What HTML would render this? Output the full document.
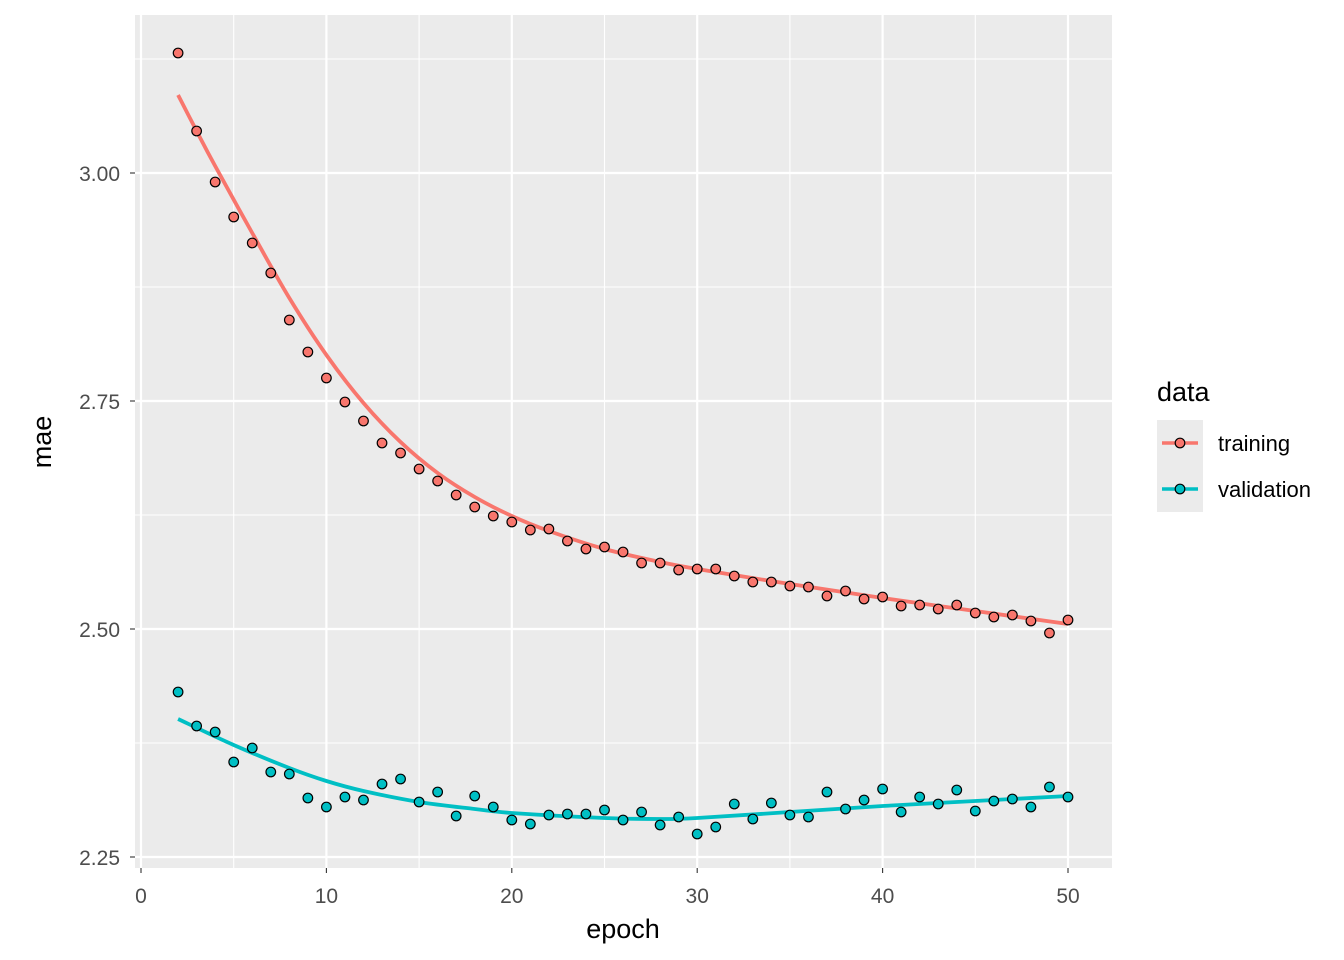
<!DOCTYPE html>
<html><head><meta charset="utf-8"><style>body{margin:0;background:#fff}svg{display:block;font-family:"Liberation Sans",sans-serif}</style></head><body>
<svg width="1344" height="960" xmlns="http://www.w3.org/2000/svg">
<rect x="135" y="15" width="977" height="853" fill="#ebebeb"/>
<g stroke="#fff" stroke-width="1.1">
<line x1="135" x2="1112" y1="59" y2="59"/><line x1="135" x2="1112" y1="287" y2="287"/><line x1="135" x2="1112" y1="515" y2="515"/><line x1="135" x2="1112" y1="743" y2="743"/>
<line y1="15" y2="868" x1="233.7" x2="233.7"/><line y1="15" y2="868" x1="419.1" x2="419.1"/><line y1="15" y2="868" x1="604.5" x2="604.5"/><line y1="15" y2="868" x1="789.9" x2="789.9"/><line y1="15" y2="868" x1="975.3" x2="975.3"/>
</g>
<g stroke="#fff" stroke-width="2.2">
<line x1="135" x2="1112" y1="173" y2="173"/><line x1="135" x2="1112" y1="401" y2="401"/><line x1="135" x2="1112" y1="629" y2="629"/><line x1="135" x2="1112" y1="857" y2="857"/>
<line y1="15" y2="868" x1="141" x2="141"/><line y1="15" y2="868" x1="326.4" x2="326.4"/><line y1="15" y2="868" x1="511.8" x2="511.8"/><line y1="15" y2="868" x1="697.2" x2="697.2"/><line y1="15" y2="868" x1="882.6" x2="882.6"/><line y1="15" y2="868" x1="1068" x2="1068"/>
</g>
<g id="pts"></g>
<g stroke="#333" stroke-width="1.1">
<line x1="130" x2="135" y1="173" y2="173"/><line x1="130" x2="135" y1="401" y2="401"/><line x1="130" x2="135" y1="629" y2="629"/><line x1="130" x2="135" y1="857" y2="857"/>
<line y1="868" y2="873" x1="141" x2="141"/><line y1="868" y2="873" x1="326.4" x2="326.4"/><line y1="868" y2="873" x1="511.8" x2="511.8"/><line y1="868" y2="873" x1="697.2" x2="697.2"/><line y1="868" y2="873" x1="882.6" x2="882.6"/><line y1="868" y2="873" x1="1068" x2="1068"/>
</g>
<g fill="#4d4d4d" font-size="21" text-anchor="end">
<text x="120" y="181">3.00</text><text x="120" y="409">2.75</text><text x="120" y="637">2.50</text><text x="120" y="865">2.25</text>
</g>
<g fill="#4d4d4d" font-size="21" text-anchor="middle">
<text x="141" y="903">0</text><text x="326.4" y="903">10</text><text x="511.8" y="903">20</text><text x="697.2" y="903">30</text><text x="882.6" y="903">40</text><text x="1068" y="903">50</text>
</g>
<text x="623" y="938" font-size="27" text-anchor="middle">epoch</text>
<text transform="translate(51,442) rotate(-90)" font-size="27" text-anchor="middle">mae</text>
<text x="1157" y="401" font-size="27">data</text>
<rect x="1157" y="420" width="46" height="92" fill="#ebebeb"/>
<line x1="1162" x2="1198" y1="443" y2="443" stroke="#F8766D" stroke-width="3.5"/>
<circle cx="1180" cy="443" r="4.8" fill="#F8766D" stroke="#000" stroke-width="1.2"/>
<line x1="1162" x2="1198" y1="489" y2="489" stroke="#00BFC4" stroke-width="3.5"/>
<circle cx="1180" cy="489" r="4.8" fill="#00BFC4" stroke="#000" stroke-width="1.2"/>
<text x="1218" y="451" font-size="22">training</text>
<text x="1218" y="497" font-size="22">validation</text>
</svg>
<script>
const X=e=>141+e*18.54;
const tr=[53,131,182,217,243,273,320,352,378,402,421,443,453,469,481,495,507,516,522,530,529,541,549,547,552,563,563,570,569,569,576,582,582,586,587,596,591,599,597,606,605,609,605,613,617,615,621,633,620];
const va=[692,726,732,762,748,772,774,798,807,797,800,784,779,802,792,816,796,807,820,824,815,814,814,810,820,812,825,817,834,827,804,819,803,815,817,792,809,800,789,812,797,804,790,811,801,799,807,787,797];
const tc=[[2,95],[3,131],[4,166],[6,233],[8,298],[10,355],[12,403],[14,442],[16,473],[18,497],[20,516],[22,531],[25,549],[28,562],[30,569],[35,584],[40,598],[45,611],[50,624]];
const vc=[[2,719],[5,745],[8,768],[10,781],[12,791],[15,802],[18,809],[20,813],[25,818],[28,819],[30,818],[35,812],[40,806],[45,801],[50,796]];
const ns="http://www.w3.org/2000/svg",g=document.getElementById('pts');
function path(c,col){let d='M'+X(c[0][0])+','+c[0][1];for(let i=1;i<c.length;i++){const p0=c[Math.max(i-2,0)],p1=c[i-1],p2=c[i],p3=c[Math.min(i+1,c.length-1)];const a=[X(p1[0])+(X(p2[0])-X(p0[0]))/6,p1[1]+(p2[1]-p0[1])/6],b=[X(p2[0])-(X(p3[0])-X(p1[0]))/6,p2[1]-(p3[1]-p1[1])/6];d+=` C${a[0]},${a[1]} ${b[0]},${b[1]} ${X(p2[0])},${p2[1]}`;}const p=document.createElementNS(ns,'path');p.setAttribute('d',d);p.setAttribute('fill','none');p.setAttribute('stroke',col);p.setAttribute('stroke-width','3.8');g.appendChild(p);}
function pts(a,col){a.forEach((y,i)=>{const c=document.createElementNS(ns,'circle');c.setAttribute('cx',X(i+2));c.setAttribute('cy',y);c.setAttribute('r','4.8');c.setAttribute('fill',col);c.setAttribute('stroke','#000');c.setAttribute('stroke-width','1.2');g.appendChild(c);});}
path(tc,'#F8766D');path(vc,'#00BFC4');pts(tr,'#F8766D');pts(va,'#00BFC4');
</script>
</body></html>
